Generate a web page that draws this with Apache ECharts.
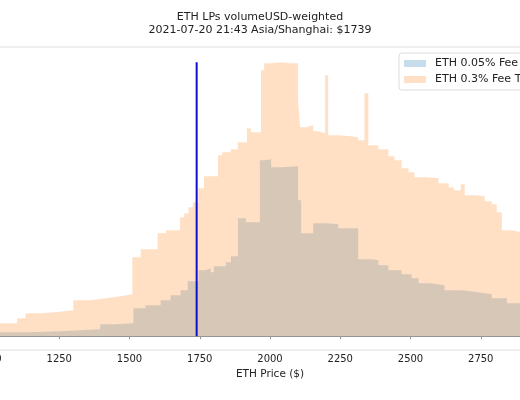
<!DOCTYPE html>
<html>
<head>
<meta charset="utf-8">
<script src="https://cdn.jsdelivr.net/npm/echarts@6/dist/echarts.min.js"></script>
<style>
html,body{margin:0;padding:0;background:#fff;}
#chart{width:520px;height:400px;}
</style>
</head>
<body>
<div id="chart"></div>
<script>
// Price bins (ETH price, $) and volumeUSD-weighted liquidity (arbitrary units)
const bluePrice = [1000,1146,1254,1325,1396,1450,1514,1557,1611,1646,1682,1707,1746,1771,1789,1800,1843,1861,1886,1914,1964,1979,2004,2039,2100,2111,2154,2200,2243,2314,2361,2386,2421,2468,2504,2529,2575,2621,2682,2743,2789,2843,2896,2968,3000];
const blueVals  = [4,5,6,7,12,13,28,31,36,41,46,55,66,68,64,70,74,80,118,114,176,177,169,170,136,103,113,112,108,77,76,71,66,62,58,53,51,46,44,42,38,33,30,28,28];

const orangePrice = [1000,1100,1130,1180,1235,1300,1360,1415,1470,1510,1540,1600,1630,1680,1695,1710,1725,1745,1765,1815,1830,1860,1885,1918,1932,1968,1979,2004,2039,2075,2100,2107,2129,2154,2175,2196,2207,2243,2289,2314,2336,2350,2386,2421,2443,2468,2493,2514,2557,2600,2636,2654,2679,2693,2736,2764,2789,2807,2825,2861,2896,2968,3000];
const orangeVals  = [13,18,23,24,26,36,38,40,42,79,87,103,106,119,123,129,134,148,160,181,184,187,194,208,204,266,273,274,273,273,236,209,211,205,203,261,201,200,199,196,243,191,187,180,176,168,164,159,158,153,149,146,152,141,140,135,132,124,106,104,103,100,100];

const currentPrice = 1739;
const seriesNames = ['ETH 0.05% Fee Tier', 'ETH 0.3% Fee Tier'];
const titleLines = ['ETH LPs volumeUSD-weighted', '2021-07-20 21:43 Asia/Shanghai: $1739'];
const xTitle = 'ETH Price ($)';

const zip = (a, b) => a.map((v, i) => [v, b[i]]);
const maxVal = Math.max(...orangeVals, ...blueVals);

const chart = echarts.init(document.getElementById('chart'));
const FONT = 'DejaVu Sans';
chart.setOption({
  animation: false,
  backgroundColor: '#fff',
  title: {
    text: titleLines.join('\n'),
    left: 'center', top: 6,
    textStyle: {fontFamily: FONT, fontSize: 11, fontWeight: 'normal', color: '#222', lineHeight: 12.5}
  },
  legend: {
    orient: 'vertical',
    left: 399, top: 53,
    padding: [4, 6, 4, 5],
    itemGap: 3,
    itemWidth: 22, itemHeight: 7,
    icon: 'rect',
    backgroundColor: 'rgba(255,255,255,0.8)',
    borderColor: '#dcdcdc', borderWidth: 1, borderRadius: 3,
    textStyle: {fontFamily: FONT, fontSize: 11, color: '#222', padding: [0, 0, 0, 4], lineHeight: 13},
    data: [
      {name: seriesNames[0], itemStyle: {color: '#c8ddec'}},
      {name: seriesNames[1], itemStyle: {color: '#ffe0c6'}}
    ]
  },
  grid: {left: -11, right: -31, top: 47, bottom: 50, show: true, borderColor: '#dedede', borderWidth: 1,
         containLabel: false, outerBoundsMode: 'none'},
  xAxis: {
    type: 'value', min: 1000, max: 3000, interval: 250,
    name: xTitle, nameLocation: 'middle', nameGap: 19,
    nameTextStyle: {fontFamily: FONT, fontSize: 10.5, color: '#222'},
    axisLine: {lineStyle: {color: '#999', width: 1}},
    axisTick: {length: 3, lineStyle: {color: '#999'}},
    axisLabel: {fontFamily: FONT, fontSize: 10, color: '#222', margin: 4, hideOverlap: false,
                showMinLabel: true, showMaxLabel: true, formatter: v => String(v)},
    splitLine: {show: false}
  },
  yAxis: {type: 'value', min: -13.75, max: 289.3, show: false, splitLine: {show: false}},
  series: [
    {
      name: seriesNames[0], type: 'line', step: 'end', symbol: 'none',
      data: zip(bluePrice, blueVals),
      lineStyle: {width: 0}, itemStyle: {color: '#1f77b4'},
      areaStyle: {color: 'rgba(31,119,180,0.24)', origin: 0, opacity: 1}
    },
    {
      name: seriesNames[1], type: 'line', step: 'end', symbol: 'none',
      data: zip(orangePrice, orangeVals),
      lineStyle: {width: 0}, itemStyle: {color: '#ff7f0e'},
      areaStyle: {color: 'rgba(255,127,14,0.24)', origin: 0, opacity: 1}
    },
    {
      name: 'price', type: 'line', symbol: 'none',
      data: [[currentPrice, 0], [currentPrice, maxVal]],
      lineStyle: {color: '#1010d0', width: 2}, z: 5
    }
  ]
});
</script>
</body>
</html>
